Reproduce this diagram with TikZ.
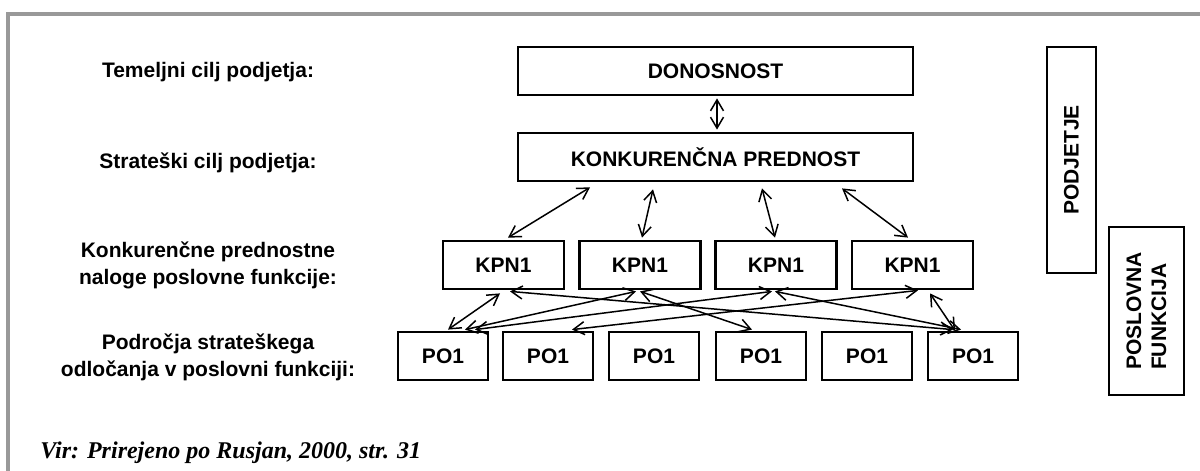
\documentclass[tikz,border=0pt]{standalone}
\usepackage{fontspec}
\setmainfont{Liberation Sans}
\newfontfamily\srcfont{Liberation Serif}
\usetikzlibrary{arrows.meta,calc}

\begin{document}
\begin{tikzpicture}[x=0.5pt,y=-0.5pt,
  box/.style={draw, line width=1.4pt, inner sep=0pt,
    font=\bfseries\fontsize{10.5}{12.5}\selectfont},
  widebox/.style={box, minimum width=197.5pt, minimum height=24pt},
  kpnbox/.style={box, minimum width=60.5pt, minimum height=24pt},
  pobox/.style={box, minimum width=45pt, minimum height=24pt},
  lvl/.style={align=center, inner sep=0pt,
    font=\bfseries\fontsize{10.5}{13.5}\selectfont},
  link/.style={line width=0.75pt,
    {Straight Barb[length=5.5pt,width=6.5pt]}-{Straight Barb[length=5.5pt,width=6.5pt]}},
  frameline/.style={draw=black!40, line width=2pt}]

\useasboundingbox (0,0) rectangle (1200,471);

% outer frame (top and left edges)
\draw[frameline] (1200,14) -- (8,14) -- (8,471);

% level captions on the left
\node[lvl] (l1) at (208,72) {Temeljni cilj podjetja:};
\node[lvl] (l2) at (208,163) {Strateški cilj podjetja:};
\node[lvl] (l3) at (208,265) {Konkurenčne prednostne\\naloge poslovne funkcije:};
\node[lvl] (l4) at (208,357) {Področja strateškega\\odločanja v poslovni funkciji:};

% goal hierarchy
\node[widebox] (don)  at (715.5,71)  {DONOSNOST};
\node[widebox] (konk) at (715.5,157) {KONKURENČNA PREDNOST};

\node[kpnbox] (kpn1) at (503.5,265) {KPN1};
\node[kpnbox] (kpn2) at (640,265)   {KPN1};
\node[kpnbox] (kpn3) at (776,265)   {KPN1};
\node[kpnbox] (kpn4) at (912.5,265) {KPN1};

\node[pobox] (po1) at (443,356) {PO1};
\node[pobox] (po2) at (548,356) {PO1};
\node[pobox] (po3) at (654,356) {PO1};
\node[pobox] (po4) at (761,356) {PO1};
\node[pobox] (po5) at (867,356) {PO1};
\node[pobox] (po6) at (973,356) {PO1};

% side bars
\node[box, rotate=90, minimum width=113pt, minimum height=24.5pt]
  (podj) at (1071.5,160) {PODJETJE};
\node[box, rotate=90, align=left, minimum width=84pt, minimum height=37.5pt]
  (posl) at (1146.5,311) {POSLOVNA\\FUNKCIJA};

% links between levels
\draw[link] ($(don.south)+(1.5,2)$) -- ($(konk.north)+(1.5,-2)$);

\draw[link] ($(konk.south)+(-125.5,5)$) -- ($(kpn1.north)+(4.5,-2)$);
\draw[link] ($(konk.south)+(-62.5,7)$)  -- ($(kpn2.north)+(2,-2)$);
\draw[link] ($(konk.south)+(46.5,6)$)   -- ($(kpn3.north)+(-1,-2)$);
\draw[link] ($(konk.south)+(126.5,6)$)  -- ($(kpn4.north)+(-4.5,-2)$);

\draw[link] ($(kpn1.south)+(-3.5,3)$) -- ($(po1.north)+(5,-1)$);
\draw[link] ($(kpn1.south)+(6.5,1)$)  -- ($(po6.north)+(-20,-1)$);
\draw[link] ($(kpn2.south)+(-4,1)$)   -- ($(po1.north)+(22,-1)$);
\draw[link] ($(kpn2.south)+(0,1)$)    -- ($(po4.north)+(-9,-1)$);
\draw[link] ($(kpn3.south)+(-4,1)$)   -- ($(po1.north)+(32,-1)$);
\draw[link] ($(kpn3.south)+(-1,1)$)   -- ($(po6.north)+(-12,-1)$);
\draw[link] ($(kpn4.south)+(5.5,0)$)  -- ($(po2.north)+(24,-1)$);
\draw[link] ($(kpn4.south)+(17.5,3)$) -- ($(po6.north)+(-18,0)$);

% source line
\node[anchor=west, inner sep=0pt,
  font=\srcfont\bfseries\itshape\fontsize{12}{14}\selectfont]
  (src) at (40,453) {Vir: Prirejeno po Rusjan, 2000, str. 31};
\end{tikzpicture}
\end{document}
